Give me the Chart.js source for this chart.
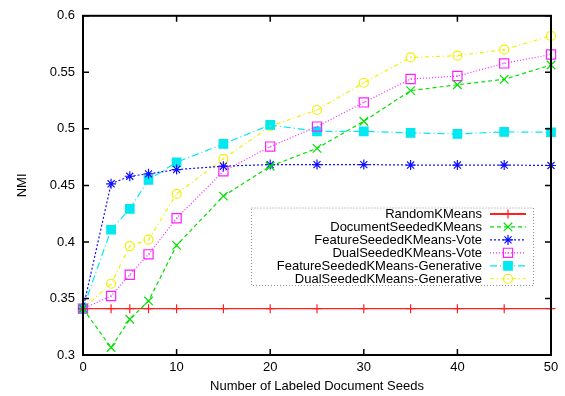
<!DOCTYPE html>
<html><head><meta charset="utf-8">
<script src="https://cdn.jsdelivr.net/npm/chart.js@4.4.1/dist/chart.umd.min.js"></script>
<style>html,body{margin:0;padding:0;background:#fff}</style>
</head><body><canvas id="c" width="565" height="396"></canvas>
<script>
const seeds = [0, 3, 5, 7, 10, 15, 20, 25, 30, 35, 40, 45, 50];
const randomKMeans = [0.341, 0.341, 0.341, 0.341, 0.341, 0.341, 0.341, 0.341, 0.341, 0.341, 0.341, 0.341, 0.341];
const documentSeeded = [0.341, 0.3066, 0.3316, 0.3478, 0.397, 0.4405, 0.4669, 0.4828, 0.5067, 0.5338, 0.539, 0.5438, 0.5565];
const featureVote = [0.341, 0.4514, 0.4581, 0.4602, 0.464, 0.467, 0.4684, 0.4684, 0.4684, 0.468, 0.468, 0.468, 0.4676];
const dualVote = [0.341, 0.3522, 0.371, 0.389, 0.421, 0.4625, 0.4843, 0.502, 0.5234, 0.5441, 0.5467, 0.5579, 0.5658];
const featureGen = [0.341, 0.4108, 0.4293, 0.4549, 0.4705, 0.4867, 0.5035, 0.4978, 0.4978, 0.4964, 0.4955, 0.4973, 0.497];
const dualGen = [0.341, 0.363, 0.3963, 0.402, 0.4425, 0.4735, 0.5023, 0.5167, 0.5408, 0.5632, 0.5647, 0.570, 0.5823];
const seriesNames = ['RandomKMeans', 'DocumentSeededKMeans', 'FeatureSeededKMeans-Vote', 'DualSeededKMeans-Vote', 'FeatureSeededKMeans-Generative', 'DualSeededKMeans-Generative'];
const xTickValues = [0, 10, 20, 30, 40, 50];
const xTickLabels = ['0', '10', '20', '30', '40', '50'];
const yTickValues = [0.3, 0.35, 0.4, 0.45, 0.5, 0.55, 0.6];
const yTickLabels = ['0.3', '0.35', '0.4', '0.45', '0.5', '0.55', '0.6'];
const xTitle = 'Number of Labeled Document Seeds';
const yTitle = 'NMI';

const FONT = 'Liberation Sans, Arial, Helvetica, sans-serif';

function pts(arr) { return seeds.map((x, i) => ({ x: x, y: arr[i] })); }

const styles = [
  { color: '#ff2020', dash: [], pointStyle: 'cross', radius: 4.5, fill: false },
  { color: '#00e000', dash: [4, 3], pointStyle: 'crossRot', radius: 6, fill: false },
  { color: '#1010ff', dash: [2, 2], pointStyle: 'star', radius: 5, fill: false },
  { color: '#ff20ff', dash: [1, 2], pointStyle: 'rect', radius: 6.5, fill: false, dot: true },
  { color: '#00e8f0', dash: [7, 3, 1, 3], pointStyle: 'rect', radius: 6, fill: true },
  { color: '#f0f000', dash: [4, 3, 1, 3], pointStyle: 'circle', radius: 4.5, fill: false, dot: true }
];
const seriesData = [randomKMeans, documentSeeded, featureVote, dualVote, featureGen, dualGen];

const datasets = seriesData.map((arr, i) => {
  const s = styles[i];
  return {
    label: seriesNames[i],
    data: pts(arr),
    borderColor: s.color,
    backgroundColor: s.color,
    borderWidth: 1.2,
    borderDash: s.dash,
    pointStyle: s.pointStyle,
    pointRadius: s.radius,
    pointBorderWidth: 1.2,
    pointBorderColor: s.color,
    pointBackgroundColor: s.fill ? s.color : 'rgba(0,0,0,0)',
    tension: 0,
    clip: false,
    centerDot: !!s.dot
  };
});

const framePlugin = {
  id: 'frame',
  afterDatasetsDraw(chart) {
    const ctx = chart.ctx, a = chart.chartArea;
    const xs = chart.scales.x, ys = chart.scales.y;
    ctx.save();
    // center dots
    chart.data.datasets.forEach((ds, i) => {
      if (!ds.centerDot) return;
      chart.getDatasetMeta(i).data.forEach(p => {
        ctx.fillStyle = ds.borderColor;
        ctx.fillRect(Math.round(p.x) - 0.5, Math.round(p.y) - 0.5, 1.2, 1.2);
      });
    });
    ctx.setLineDash([]);
    ctx.strokeStyle = '#000';
    ctx.lineWidth = 1.5;
    ctx.beginPath();
    xTickValues.forEach(v => {
      const px = xs.getPixelForValue(v);
      ctx.moveTo(px, a.bottom); ctx.lineTo(px, a.bottom - 6);
      ctx.moveTo(px, a.top); ctx.lineTo(px, a.top + 6);
    });
    yTickValues.forEach(v => {
      const py = ys.getPixelForValue(v);
      ctx.moveTo(a.left, py); ctx.lineTo(a.left + 6, py);
      ctx.moveTo(a.right, py); ctx.lineTo(a.right - 6, py);
    });
    ctx.stroke();
    ctx.lineWidth = 2;
    ctx.strokeRect(a.left, a.top, a.right - a.left, a.bottom - a.top);
    ctx.restore();
  }
};

const legendPlugin = {
  id: 'customLegend',
  afterDraw(chart) {
    const ctx = chart.ctx;
    const box = { left: 251, top: 207.5, right: 533, bottom: 285 };
    ctx.save();
    ctx.strokeStyle = '#909090';
    ctx.lineWidth = 1;
    ctx.setLineDash([1, 2]);
    ctx.strokeRect(box.left + 0.5, box.top + 0.5, box.right - box.left, box.bottom - box.top);
    ctx.font = '13px ' + FONT;
    ctx.textAlign = 'right';
    ctx.textBaseline = 'middle';
    chart.data.datasets.forEach((ds, i) => {
      const y = 214 + i * 12.95;
      ctx.setLineDash([]);
      ctx.fillStyle = '#000';
      ctx.fillText(ds.label, 482, y + 0.5);
      ctx.strokeStyle = ds.borderColor;
      ctx.lineWidth = ds.borderWidth + (i === 0 ? 0.6 : 0);
      ctx.setLineDash(ds.borderDash);
      ctx.beginPath();
      ctx.moveTo(490, y); ctx.lineTo(526, y);
      ctx.stroke();
      ctx.setLineDash([]);
      ctx.fillStyle = ds.pointBackgroundColor;
      ctx.lineWidth = ds.pointBorderWidth;
      Chart.helpers.drawPoint(ctx, { pointStyle: ds.pointStyle, radius: ds.pointRadius, rotation: 0, borderWidth: ds.pointBorderWidth }, 508, y);
      if (ds.centerDot) { ctx.fillStyle = ds.borderColor; ctx.fillRect(507.5, y - 0.5, 1.2, 1.2); }
    });
    ctx.restore();
  }
};

new Chart(document.getElementById('c'), {
  type: 'line',
  data: { datasets: datasets },
  plugins: [framePlugin, legendPlugin],
  options: {
    responsive: false,
    devicePixelRatio: 1,
    animation: false,
    layout: { padding: { top: 15, right: 14, left: 0, bottom: 0 } },
    plugins: { legend: { display: false }, tooltip: { enabled: false } },
    scales: {
      x: {
        type: 'linear', min: 0, max: 50,
        afterFit(s) { s.height = 41; },
        afterBuildTicks(s) { s.ticks = xTickValues.map(v => ({ value: v })); },
        grid: { display: false, drawTicks: false },
        border: { display: false },
        ticks: { padding: 5, color: '#000', font: { family: FONT, size: 13 }, maxRotation: 0, autoSkip: false,
          callback: (v, i) => xTickLabels[i] },
        title: { display: true, text: xTitle, color: '#000', font: { family: FONT, size: 13 }, padding: { top: 0, bottom: 2 } }
      },
      y: {
        type: 'linear', min: 0.3, max: 0.6,
        afterFit(s) { s.width = 83; },
        afterBuildTicks(s) { s.ticks = yTickValues.map(v => ({ value: v })); },
        grid: { display: false, drawTicks: false },
        border: { display: false },
        ticks: { padding: 8, color: '#000', font: { family: FONT, size: 13 }, autoSkip: false,
          callback: (v, i) => yTickLabels[i] },
        title: { display: true, text: yTitle, color: '#000', font: { family: FONT, size: 13 }, padding: { top: 15, bottom: 0 } }
      }
    }
  }
});
</script>
</body></html>
